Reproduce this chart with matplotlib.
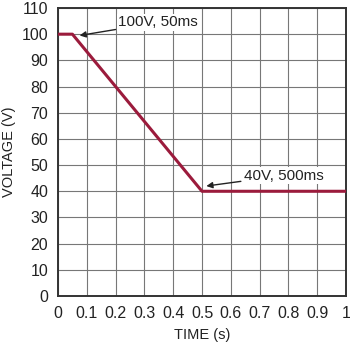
import matplotlib
matplotlib.use("Agg")
import matplotlib.pyplot as plt
import numpy as np

plt.rcParams['font.family'] = ['Liberation Sans Narrow', 'Liberation Sans', 'DejaVu Sans']

time_s = [0, 0.05, 0.5, 1.0]
voltage = [100, 100, 40, 40]
xticks = [0, 0.1, 0.2, 0.3, 0.4, 0.5, 0.6, 0.7, 0.8, 0.9, 1]
xlabels = ['0', '0.1', '0.2', '0.3', '0.4', '0.5', '0.6', '0.7', '0.8', '0.9', '1']
yticks = list(range(0, 111, 10))

fig = plt.figure(figsize=(3.5, 3.43), dpi=100)
ax = fig.add_axes([58/350, 47/343, 288/350, 288/343])
ax.plot(time_s, voltage, color='#9b1b3c', lw=2.2, solid_capstyle='butt', zorder=3)

ax.set_xlim(0, 1)
ax.set_ylim(0, 110)
ax.set_xticks(xticks)
ax.set_xticklabels(xlabels)
ax.set_yticks(yticks)
ax.grid(True, color='#777777', lw=0.8)
ax.tick_params(length=0, labelsize=11.5, pad=7, colors='#222222')
for s in ax.spines.values():
    s.set_color('#333333')
    s.set_linewidth(1.4)

ax.set_xlabel('TIME (s)', fontsize=10.5, color='#222222', labelpad=5)
ax.set_ylabel('VOLTAGE (V)', fontsize=10.5, color='#222222', labelpad=4)

ax.annotate('100V, 50ms', xy=(0.075, 99.5), xytext=(0.21, 104.5),
            fontsize=11, va='center', ha='left', color='#222222',
            arrowprops=dict(arrowstyle='-|>', color='#222222', lw=1, mutation_scale=9,
                            shrinkA=1, shrinkB=0),
            bbox=dict(boxstyle='square,pad=0.1', fc='white', ec='none'))
ax.annotate('40V, 500ms', xy=(0.515, 42), xytext=(0.645, 46),
            fontsize=11, va='center', ha='left', color='#222222',
            arrowprops=dict(arrowstyle='-|>', color='#222222', lw=1, mutation_scale=9,
                            shrinkA=1, shrinkB=0),
            bbox=dict(boxstyle='square,pad=0.1', fc='white', ec='none'))

fig.savefig('out.png', dpi=100)
